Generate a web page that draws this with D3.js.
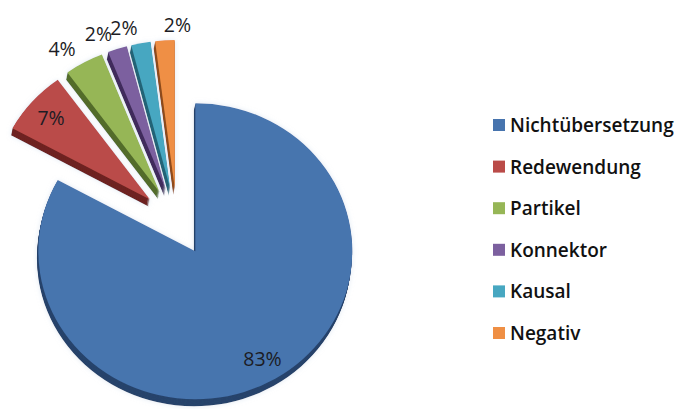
<!DOCTYPE html>
<html>
<head>
<meta charset="utf-8">
<script src="https://cdn.jsdelivr.net/npm/d3@7/dist/d3.min.js"></script>
<style>
  html, body { margin: 0; padding: 0; background: #fff; }
  svg { display: block; }
</style>
</head>
<body>
<svg id="chart" width="682" height="409"></svg>
<script>
// Category data
const categories = ["Nichtübersetzung", "Redewendung", "Partikel", "Konnektor", "Kausal", "Negativ"];
const values = [83, 7, 4, 2, 2, 2];
const labels = ["83%", "7%", "4%", "2%", "2%", "2%"];
const colors = ["#4774AE", "#BA4B48", "#96B656", "#7C609F", "#47A7C1", "#EF8F44"];
const sideColors = ["#27446C", "#6E2421", "#526C2A", "#402D5C", "#256577", "#8E4C1C"];

const W = 682, H = 409;
const cx = 177, cy = 222;      // pie centre
const r = 157;                 // radius
const tilt = 0.943;            // vertical squash of the 3-D view
const explode = 36;            // slice pull-out distance
const depth = 7;               // thickness of the 3-D side

const svg = d3.select("#chart");

// soft halo around the slices
const defs = svg.append("defs");
const glow = defs.append("filter").attr("id", "halo")
  .attr("x", "-10%").attr("y", "-10%").attr("width", "120%").attr("height", "120%");
glow.append("feGaussianBlur").attr("in", "SourceAlpha").attr("stdDeviation", 2.5).attr("result", "b");
glow.append("feFlood").attr("flood-color", "#c9d6e8").attr("flood-opacity", 0.55).attr("result", "c");
glow.append("feComposite").attr("in", "c").attr("in2", "b").attr("operator", "in").attr("result", "s");
const mrg = glow.append("feMerge");
mrg.append("feMergeNode").attr("in", "s");
mrg.append("feMergeNode").attr("in", "SourceGraphic");

const pie = d3.pie().sort(null).value(d => d.value).startAngle(0).endAngle(2 * Math.PI);
const data = categories.map((c, i) => ({ name: c, value: values[i], label: labels[i], color: colors[i], side: sideColors[i] }));
const arcs = pie(data);
const arc = d3.arc().innerRadius(0).outerRadius(r);

const mid = a => (a.startAngle + a.endAngle) / 2;

const pieG = svg.append("g")
  .attr("filter", "url(#halo)")
  .append("g")
  .attr("transform", `translate(${cx},${cy}) scale(1,${tilt})`);

// side faces (extruded downward)
const sideG = pieG.append("g");
arcs.forEach(a => {
  const m = mid(a);
  const ox = explode * Math.sin(m), oy = -explode * Math.cos(m);
  const g = sideG.append("g").attr("transform", `translate(${ox},${oy})`);
  for (let k = depth; k >= 1; k--) {
    g.append("path")
      .attr("d", arc(a))
      .attr("transform", `translate(${-k * 0.2},${k / tilt})`)
      .attr("fill", a.data.side);
  }
});

// top faces
pieG.append("g").selectAll("path")
  .data(arcs)
  .join("path")
  .attr("transform", a => `translate(${explode * Math.sin(mid(a))},${-explode * Math.cos(mid(a))})`)
  .attr("d", arc)
  .attr("fill", d => d.data.color);

// value labels
svg.append("g").selectAll("text")
  .data(arcs)
  .join("text")
  .each(function (a) {
    const m = mid(a);
    const inside = a.data.value >= 5;
    const lr = explode + (inside ? 0.84 * r : 1.11 * r);
    const x = cx + lr * Math.sin(m);
    const y = cy - lr * Math.cos(m) * tilt;
    const anchor = inside ? "middle" : (Math.sin(m) < -0.1 ? "end" : "start");
    d3.select(this)
      .attr("x", x).attr("y", y)
      .attr("text-anchor", anchor)
      .attr("dominant-baseline", "central");
  })
  .attr("font-family", "'Open Sans', sans-serif")
  .attr("font-size", 19.5)
  .attr("fill", "#1c1c24")
  .text(d => d.data.label);

// legend
const legend = svg.append("g");
const ly = d3.scalePoint().domain(categories).range([125, 333]);
const item = legend.selectAll("g").data(data).join("g")
  .attr("transform", d => `translate(493,${ly(d.name)})`);
item.append("rect")
  .attr("x", 0).attr("y", -6).attr("width", 12).attr("height", 12)
  .attr("fill", d => d.color);
item.append("text")
  .attr("x", 17).attr("y", 0)
  .attr("dominant-baseline", "central")
  .attr("font-family", "'Open Sans', sans-serif")
  .attr("font-size", 19)
  .attr("font-weight", 600)
  .attr("fill", "#111")
  .text(d => d.name);
</script>
</body>
</html>
